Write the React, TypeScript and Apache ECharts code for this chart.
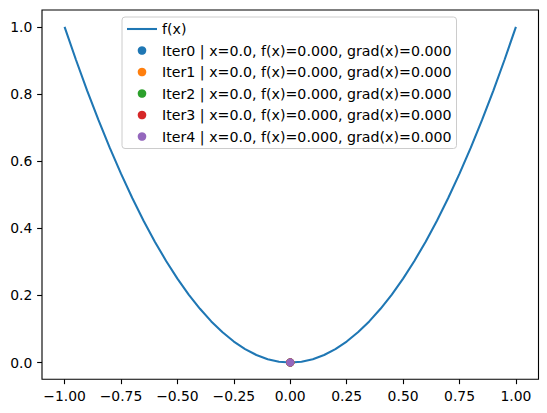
import React, { useEffect, useRef } from "react";
import * as echarts from "echarts";

// f(x) curve samples
const curveX = [
  -1.0, -0.95, -0.9, -0.85, -0.8, -0.75, -0.7, -0.65, -0.6, -0.55, -0.5, -0.45, -0.4, -0.35, -0.3, -0.25, -0.2, -0.15, -0.1, -0.05,
  0.0, 0.05, 0.1, 0.15, 0.2, 0.25, 0.3, 0.35, 0.4, 0.45, 0.5, 0.55, 0.6, 0.65, 0.7, 0.75, 0.8, 0.85, 0.9, 0.95, 1.0,
];
const curveY = [
  1.0, 0.9025, 0.81, 0.7225, 0.64, 0.5625, 0.49, 0.4225, 0.36, 0.3025, 0.25, 0.2025, 0.16, 0.1225, 0.09, 0.0625, 0.04, 0.0225, 0.01, 0.0025,
  0.0, 0.0025, 0.01, 0.0225, 0.04, 0.0625, 0.09, 0.1225, 0.16, 0.2025, 0.25, 0.3025, 0.36, 0.4225, 0.49, 0.5625, 0.64, 0.7225, 0.81, 0.9025, 1.0,
];

// iteration points
const iterX = [0.0, 0.0, 0.0, 0.0, 0.0];
const iterF = [0.0, 0.0, 0.0, 0.0, 0.0];
const iterGrad = [0.0, 0.0, 0.0, 0.0, 0.0];
const iterColors = ["#1f77b4", "#ff7f0e", "#2ca02c", "#d62728", "#9467bd"];

const xTicks = [-1.0, -0.75, -0.5, -0.25, 0.0, 0.25, 0.5, 0.75, 1.0];
const yTicks = [0.0, 0.2, 0.4, 0.6, 0.8, 1.0];

const FONT = "DejaVu Sans";
const FS = 13.9;

const fmtMinus = (s: string) => s.replace("-", "\u2212");

export default function App() {
  const ref = useRef<HTMLDivElement>(null);
  useEffect(() => {
    if (!ref.current) return;
    const chart = echarts.init(ref.current, null, { renderer: "svg" });
    const iterNames = iterX.map(
      (x, i) => `Iter${i} | x=${x.toFixed(1)}, f(x)=${iterF[i].toFixed(3)}, grad(x)=${iterGrad[i].toFixed(3)}`
    );
    const series: any[] = [
      {
        type: "line",
        name: "f(x)",
        data: curveX.map((x, i) => [x, curveY[i]]),
        symbol: "none",
        lineStyle: { color: "#1f77b4", width: 2.08 },
        itemStyle: { color: "#1f77b4" },
        z: 2,
      },
      ...iterX.map((x, i) => ({
        type: "scatter",
        name: iterNames[i],
        data: [[x, iterF[i]]],
        symbol: "circle",
        symbolSize: 8.3,
        itemStyle: { color: iterColors[i], opacity: 1 },
        z: 3 + i,
      })),
    ];
    const tickStyle = { color: "#000", width: 1.11 };
    chart.setOption({
      animation: false,
      grid: {
        left: 42,
        top: 10,
        right: 8.5,
        bottom: 33.7,
        show: true,
        borderColor: "#000",
        borderWidth: 1.11,
        backgroundColor: "transparent",
      },
      legend: {
        orient: "vertical",
        left: 122,
        top: 17,
        padding: [5, 5, 5, 5],
        itemWidth: 30,
        itemHeight: 8.6,
        itemGap: 7.5,
        itemTextGap: 6,
        backgroundColor: "rgba(255,255,255,0.8)",
        borderColor: "#cccccc",
        borderWidth: 1,
        borderRadius: 3,
        textStyle: { fontFamily: FONT, fontSize: 14.2, color: "#000" },
        data: [
          { name: "f(x)", icon: "path://M0,0H30V2.08H0Z", itemStyle: { color: "#1f77b4" } },
          ...iterNames.map((n, i) => ({ name: n, icon: "circle", itemStyle: { color: iterColors[i] } })),
        ],
      },
      xAxis: {
        type: "value",
        min: -1.1,
        max: 1.1,
        splitLine: { show: false },
        axisLine: { show: false, onZero: false },
        axisTick: {
          show: true,
          customValues: xTicks,
          length: 4.86,
          lineStyle: tickStyle,
        },
        axisLabel: {
          customValues: xTicks,
          margin: 9.7,
          fontFamily: FONT,
          fontSize: FS,
          color: "#000",
          formatter: (v: number) => fmtMinus(v.toFixed(2)),
        },
      },
      yAxis: {
        type: "value",
        min: -0.05,
        max: 1.05,
        splitLine: { show: false },
        axisLine: { show: false, onZero: false },
        axisTick: {
          show: true,
          customValues: yTicks,
          length: 4.86,
          lineStyle: tickStyle,
        },
        axisLabel: {
          customValues: yTicks,
          margin: 9.7,
          fontFamily: FONT,
          fontSize: FS,
          color: "#000",
          formatter: (v: number) => fmtMinus(v.toFixed(1)),
        },
      },
      series,
    });
    return () => chart.dispose();
  }, []);
  return (
    <div
      ref={ref}
      style={{ position: "fixed", left: 0, top: 0, width: 547, height: 413, background: "#fff" }}
    />
  );
}
